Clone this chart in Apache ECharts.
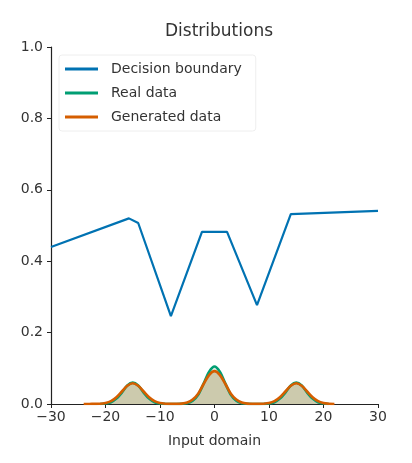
<!DOCTYPE html>
<html>
<head>
<meta charset="utf-8">
<script src="https://cdn.jsdelivr.net/npm/echarts@6/dist/echarts.min.js"></script>
<style>html,body{margin:0;background:#fff}#c{width:412px;height:463px}</style>
</head>
<body>
<div id="c"></div>
<script>
// decision boundary
var dbX = [-30, -15.7, -14, -8, -2.3, 2.3, 7.8, 14, 30];
var dbY = [0.44, 0.52, 0.507, 0.246, 0.482, 0.482, 0.277, 0.532, 0.541];

// real data density
var realX = [-21,-20,-19,-18,-17,-16,-15,-14,-13,-12,-11,-10,-9,-8,-7,-6,-5,-4,-3,-2,-1,0,1,2,3,4,5,6,7,8,9,10,11,12,13,14,15,16,17,18,19,20,21];
var realY = [0.0002,0.0013,0.005,0.015,0.032,0.052,0.06,0.052,0.032,0.015,0.005,0.0013,0.0002,0,0,0.0004,0.0022,0.009,0.026,0.057,0.09,0.105,0.09,0.057,0.026,0.009,0.0022,0.0004,0,0,0.0002,0.0013,0.005,0.015,0.032,0.052,0.06,0.052,0.032,0.015,0.005,0.0013,0.0002];

// generated data density
var genX = [-24,-23,-22,-21,-20,-19,-18,-17,-16,-15,-14,-13,-12,-11,-10,-9,-8,-7,-6,-5,-4,-3,-2,-1,0,1,2,3,4,5,6,7,8,9,10,11,12,13,14,15,16,17,18,19,20,21,22];
var genY = [0,0.0002,0.0004,0.0006,0.0026,0.008,0.019,0.035,0.051,0.058,0.051,0.035,0.019,0.008,0.0026,0.0008,0.0004,0.0003,0.001,0.004,0.0124,0.029,0.056,0.081,0.092,0.081,0.056,0.029,0.0124,0.004,0.001,0.0003,0.0004,0.0008,0.0026,0.008,0.019,0.035,0.051,0.058,0.051,0.035,0.019,0.008,0.0026,0.0006,0];

function pairs(xs, ys) { return xs.map(function (x, i) { return [x, ys[i]]; }); }

var font = 'DejaVu Sans';
var axisLab = { color: '#333', fontSize: 14, fontFamily: font };
var chart = echarts.init(document.getElementById('c'));
chart.setOption({
  animation: false,
  title: { text: 'Distributions', left: 214, top: 18, textAlign: 'center',
    textStyle: { fontFamily: font, fontSize: 17, fontWeight: 'normal', color: '#333' } },
  grid: { left: 51, right: 34, top: 47, bottom: 59 },
  legend: {
    left: 59, top: 55, orient: 'vertical', itemWidth: 33, itemHeight: 3, itemGap: 10,
    padding: [7, 14, 7, 6], borderColor: '#eee', borderWidth: 1, borderRadius: 3,
    backgroundColor: 'rgba(255,255,255,0.8)',
    textStyle: { fontFamily: font, fontSize: 14, color: '#333', padding: [0, 0, 0, 8] },
    data: [
      { name: 'Decision boundary', icon: 'rect' },
      { name: 'Real data', icon: 'rect' },
      { name: 'Generated data', icon: 'rect' }
    ]
  },
  xAxis: {
    type: 'value', min: -30, max: 30, interval: 10,
    name: 'Input domain', nameLocation: 'middle', nameGap: 30,
    nameTextStyle: { fontFamily: font, fontSize: 14, color: '#333' },
    axisLine: { onZero: false, lineStyle: { color: '#222', width: 1.2 } },
    axisTick: { show: true, length: 4, lineStyle: { color: '#222' } },
    axisLabel: Object.assign({ margin: 6, formatter: function (v) { return String(v).replace('-', '\u2212'); } }, axisLab),
    splitLine: { show: false }
  },
  yAxis: {
    type: 'value', min: 0, max: 1, interval: 0.2,
    axisLine: { show: true, onZero: false, lineStyle: { color: '#222', width: 1.2 } },
    axisTick: { show: true, length: 4, lineStyle: { color: '#222' } },
    axisLabel: Object.assign({ margin: 8, formatter: function (v) { return v.toFixed(1); } }, axisLab),
    splitLine: { show: false }
  },
  series: [
    { name: 'Decision boundary', type: 'line', data: pairs(dbX, dbY), symbol: 'none',
      lineStyle: { color: '#0072b2', width: 2.2 }, itemStyle: { color: '#0072b2' } },
    { name: 'Real data', type: 'line', data: pairs(realX, realY), symbol: 'none', smooth: 0.3,
      lineStyle: { color: '#009e73', width: 2.6 }, itemStyle: { color: '#009e73' },
      areaStyle: { color: '#8fb89a', opacity: 0.3 } },
    { name: 'Generated data', type: 'line', data: pairs(genX, genY), symbol: 'none', smooth: 0.3,
      lineStyle: { color: '#d55e00', width: 2.6 }, itemStyle: { color: '#d55e00' },
      areaStyle: { color: '#b59a5f', opacity: 0.4 } }
  ]
});
</script>
</body>
</html>
